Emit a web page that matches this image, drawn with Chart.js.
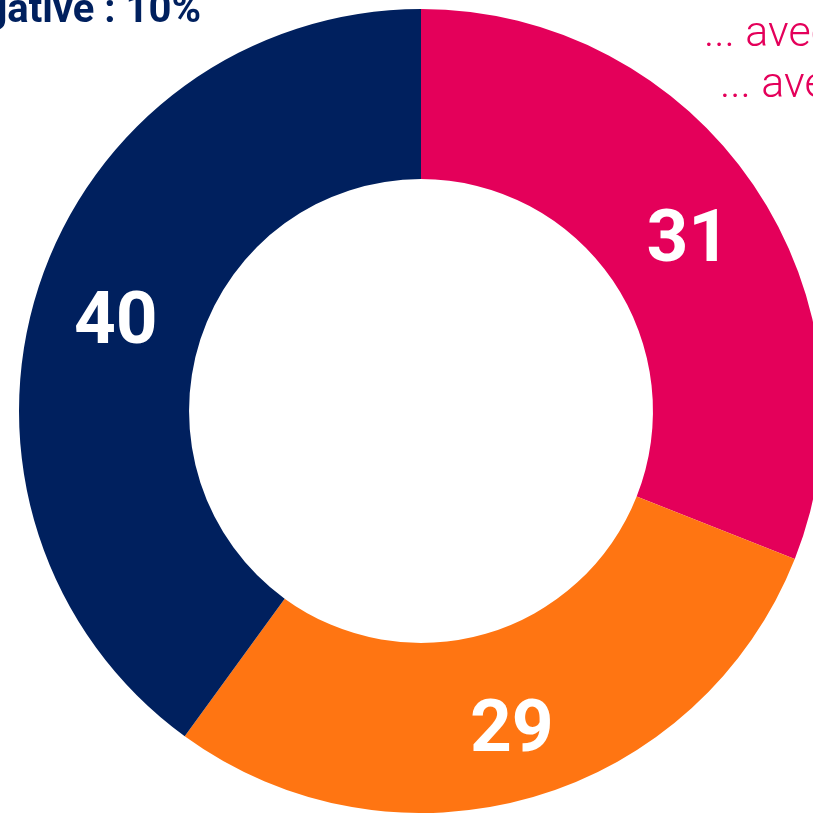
<!DOCTYPE html>
<html>
<head>
<meta charset="utf-8">
<script src="https://cdn.jsdelivr.net/npm/chart.js@4"></script>
<style>
  html, body { margin: 0; padding: 0; width: 813px; height: 813px; overflow: hidden; background: #fff; }
  #wrap { position: absolute; left: 0; top: 0; width: 1000px; height: 813px; }
</style>
</head>
<body>
<div id="wrap"><canvas id="c" width="1000" height="813"></canvas></div>
<script>
const categories = ["Positive", "Neutre", "Négative"];
const values = [31, 29, 40];
const colors = ["#E4005A", "#FF7512", "#00205E"];
const titleLeft = "Opinion négative : 10%";
const noteLines = ["... avec", "... avec"];

const labelPlugin = {
  id: 'arcLabels',
  afterDatasetsDraw(chart) {
    const ctx = chart.ctx;
    const meta = chart.getDatasetMeta(0);
    ctx.save();
    ctx.fillStyle = '#ffffff';
    ctx.font = 'bold 73px Roboto';
    ctx.textAlign = 'center';
    ctx.textBaseline = 'middle';
    meta.data.forEach((arc, i) => {
      const mid = (arc.startAngle + arc.endAngle) / 2;
      const r = (arc.innerRadius + arc.outerRadius) / 2 + 5;
      const x = arc.x + Math.cos(mid) * r;
      const y = arc.y + Math.sin(mid) * r;
      ctx.fillText(String(values[i]), x + 1, y + 13);
    });
    ctx.restore();
  },
  afterDraw(chart) {
    const ctx = chart.ctx;
    ctx.save();
    ctx.fillStyle = colors[2];
    ctx.font = 'bold 40px Roboto';
    ctx.textAlign = 'right';
    ctx.textBaseline = 'alphabetic';
    ctx.fillText(titleLeft, 201, 22);
    ctx.fillStyle = colors[0];
    ctx.font = '300 43px Roboto';
    ctx.textAlign = 'left';
    ctx.fillText(noteLines[0], 704, 46);
    ctx.fillText(noteLines[1], 720, 97);
    ctx.restore();
  }
};

new Chart(document.getElementById('c'), {
  type: 'doughnut',
  data: {
    labels: categories,
    datasets: [{
      data: values,
      backgroundColor: colors,
      borderWidth: 0,
      hoverOffset: 0
    }]
  },
  options: {
    responsive: false,
    animation: false,
    cutout: '57.7%',
    layout: { padding: { left: 19, right: 177, top: 9, bottom: 0 } },
    plugins: {
      legend: { display: false },
      tooltip: { enabled: false },
      title: { display: false }
    },
    events: []
  },
  plugins: [labelPlugin]
});
</script>
</body>
</html>
